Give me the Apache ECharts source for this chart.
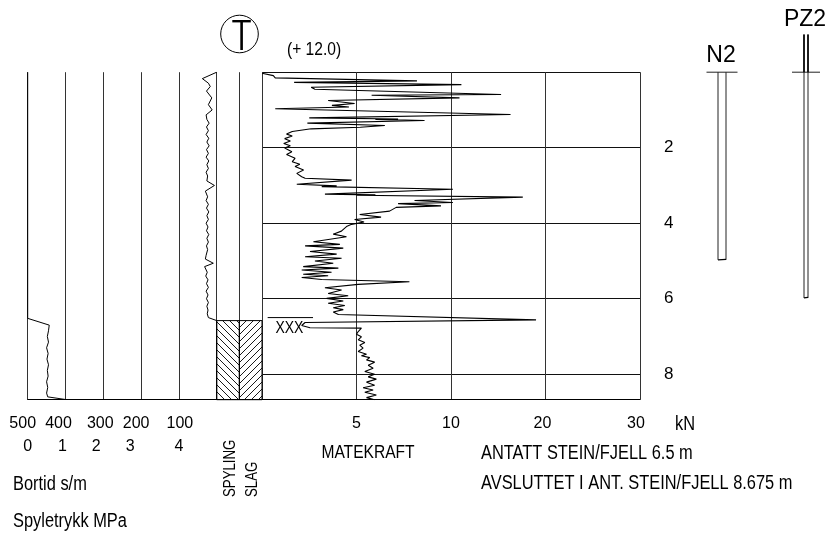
<!DOCTYPE html>
<html>
<head>
<meta charset="utf-8">
<script src="https://cdn.jsdelivr.net/npm/echarts@6/dist/echarts.min.js"></script>
<style>
  html, body { margin: 0; padding: 0; background: #fff; }
  #chart { width: 832px; height: 533px; }
</style>
</head>
<body>
<div id="chart"></div>
<script>
// ---- Totalsondering: borehole log data ----

// depth below ground (m)
const DEPTH_END = 8.675;
const depthTicks = [2, 4, 6, 8];

// Matekraft (feed force, kN) – piecewise scale breakpoints and their labels
const kNBreaks = [0, 5, 10, 20, 30];
const kNLabels = ['', '5', '10', '20', '30'];

// Matekraft trace
const matekraftDepth = [
  0.03, 0.09, 0.15, 0.23, 0.27, 0.33, 0.40, 0.45, 0.59, 0.61, 0.68, 0.75, 0.83, 0.88, 0.92, 0.97,
  1.12, 1.21, 1.24, 1.25, 1.28, 1.35, 1.41, 1.46, 1.50, 1.57, 1.64, 1.69, 1.76, 1.82, 1.89, 1.95,
  2.01, 2.06, 2.11, 2.18, 2.28, 2.37, 2.44, 2.50, 2.59, 2.68, 2.77, 2.81, 2.86, 2.97, 3.01, 3.03,
  3.10, 3.23, 3.25, 3.26, 3.31, 3.40, 3.45, 3.48, 3.54, 3.58, 3.68, 3.77, 3.84, 3.90, 3.97, 4.03,
  4.09, 4.21, 4.29, 4.36, 4.49, 4.56, 4.60, 4.66, 4.75, 4.82, 4.89, 4.93, 5.00, 5.06, 5.15, 5.19,
  5.24, 5.30, 5.35, 5.39, 5.44, 5.49, 5.55, 5.62, 5.71, 5.77, 5.86, 5.92, 5.99, 6.06, 6.12, 6.18,
  6.24, 6.29, 6.35, 6.42, 6.56, 6.63, 6.71, 6.77, 6.78, 6.87, 6.94, 7.01, 7.09, 7.16, 7.23, 7.31,
  7.40, 7.47, 7.51, 7.56, 7.62, 7.68, 7.76, 7.84, 7.93, 8.00, 8.07, 8.13, 8.21, 8.29, 8.36, 8.42,
  8.48, 8.55, 8.62, 8.675
];
const matekraftKN = [
  0.0, 0.6, 0.7, 8.2, 1.7, 11.1, 2.6, 2.8, 15.3, 5.8, 10.9, 3.5, 4.9, 3.7, 4.6, 0.7,
  16.3, 2.5, 7.2, 6.0, 8.6, 2.4, 6.5, 5.2, 2.6, 1.6, 1.3, 1.6, 1.2, 1.5, 1.15, 1.5,
  1.2, 1.1, 1.58, 1.3, 1.75, 1.6, 2.0, 1.75, 2.2, 1.84, 2.1, 2.28, 4.74, 1.84, 3.95, 3.16,
  10.2, 3.33, 6.0, 5.0, 17.6, 8.07, 10.2, 7.2, 9.47, 7.1, 6.75, 5.17, 6.3, 4.9, 5.4, 4.74,
  4.47, 4.2, 3.77, 4.47, 2.72, 4.12, 2.28, 4.3, 2.54, 3.95, 2.28, 4.21, 2.8, 3.77, 2.18, 4.04,
  2.1, 3.68, 2.18, 3.5, 2.1, 3.16, 7.8, 5.09, 3.33, 4.21, 3.5, 4.56, 3.42, 4.3, 3.5, 4.38,
  3.77, 4.3, 3.77, 4.04, 19.0, 2.28, 2.1, 2.54, 5.26, 5.09, 5.0, 5.26, 5.09, 5.44, 5.17, 5.35,
  5.09, 5.53, 5.26, 5.7, 5.53, 5.96, 5.62, 5.88, 5.44, 5.96, 5.62, 6.05, 5.53, 5.96, 5.35, 5.88,
  5.44, 6.05, 5.53, 5.96
];

// Bortid (s/m)
const bortidDepth = [
  0.0, 0.17, 0.29, 0.38, 0.50, 0.68, 0.86, 1.00, 1.13, 1.25, 1.35, 1.45, 1.55, 1.65, 1.75, 1.85,
  1.95, 2.05, 2.15, 2.25, 2.35, 2.45, 2.55, 2.65, 2.75, 2.88, 3.00, 3.15, 3.30, 3.40, 3.50, 3.60,
  3.70, 3.80, 3.90, 4.00, 4.10, 4.20, 4.30, 4.40, 4.50, 4.60, 4.70, 4.85, 4.95, 5.06, 5.15, 5.30,
  5.40, 5.50, 5.60, 5.70, 5.80, 5.90, 6.00, 6.10, 6.20, 6.30, 6.40, 6.50, 6.58, 8.675
];
const bortidSm = [
  0, 38, 22, 17, 27, 13, 22, 12, 28, 26, 20, 27, 22, 28, 21, 26,
  20, 27, 22, 28, 21, 26, 22, 28, 24, 26, 6, 30, 24, 28, 22, 27,
  21, 26, 22, 28, 23, 27, 21, 26, 22, 27, 24, 28, 30, 9, 32, 25,
  29, 23, 27, 22, 28, 23, 27, 22, 26, 23, 25, 22, 0, 0
];

// Spyletrykk (MPa)
const spyleDepth = [0, 6.52, 6.70, 6.85, 7.00, 7.15, 7.30, 7.45, 7.60, 7.75, 7.90, 8.05, 8.20, 8.35, 8.50, 8.60, 8.67];
const spyleMPa   = [0, 0, 0.57, 0.55, 0.52, 0.55, 0.50, 0.54, 0.51, 0.55, 0.52, 0.54, 0.50, 0.53, 0.50, 0.53, 1.0];

// Spyling / slag interval
const flushTop = 6.58;
const flushColumns = ['SPYLING', 'SLAG'];

// Stone/rock marker
const stoneDepth = 6.5;
const stoneSpanKN = [0.3, 2.7];

// Piezometers
const pipeNames = ['N2', 'PZ2'];
const pipeTop = [0, -1.0];
const pipeBottom = [4.97, 5.98];

// ---- layout ----
const FONT = "'Liberation Sans', Arial, sans-serif";
const NARROW = 0.82;            // horizontal squeeze for the condensed lettering
const TOP = 72.2, HEIGHT = 327.5;
const LINE = '#333';
const PIPE_LAYOUT = [
  { cx: 32, half: 4, ground: 15.5, labelY: 56 },
  { cx: 116, half: 2, ground: 14, labelY: 20 }
];

function kNToAxis(k) {
  for (let i = 0; i < kNBreaks.length - 1; i++) {
    if (k <= kNBreaks[i + 1] || i === kNBreaks.length - 2) {
      return i + (k - kNBreaks[i]) / (kNBreaks[i + 1] - kNBreaks[i]);
    }
  }
}

function hatchPattern(dir) {
  const s = 7;
  const c = document.createElement('canvas');
  c.width = s; c.height = s;
  const g = c.getContext('2d');
  g.strokeStyle = '#000';
  g.lineWidth = 0.9;
  g.beginPath();
  if (dir > 0) {
    g.moveTo(-1, s + 1); g.lineTo(s + 1, -1);
    g.moveTo(-1, 1); g.lineTo(1, -1);
    g.moveTo(s - 1, s + 1); g.lineTo(s + 1, s - 1);
  } else {
    g.moveTo(-1, -1); g.lineTo(s + 1, s + 1);
    g.moveTo(-1, s - 1); g.lineTo(1, s + 1);
    g.moveTo(s - 1, -1); g.lineTo(s + 1, 1);
  }
  g.stroke();
  return c;
}
const patterns = [hatchPattern(-1), hatchPattern(1)];

function richShift(shifts) {
  const rich = {};
  Object.keys(shifts).forEach(k => {
    const s = shifts[k];
    rich['s' + k] = s < 0 ? { padding: [0, -2 * s, 0, 0] } : { padding: [0, 0, 0, 2 * s] };
  });
  return rich;
}
const numStyle = { fontFamily: FONT, fontSize: 16, color: '#000' };
const bortShift = { 500: -5, 400: -7, 300: -3, 200: -5, 100: 1 };
const spyleShift = { 0: 0, 1: -3, 2: -7, 3: -11, 4: 0 };
const kNShift = { 1: 0, 2: 0, 3: -3, 4: -4 };

// condensed text label helper (graphic component)
function label(text, x, y, size, opts) {
  opts = opts || {};
  return {
    type: 'text', x: x, y: y, rotation: opts.rotation || 0,
    scaleX: opts.rotation ? NARROW * 0.95 : NARROW,
    style: {
      text: text, x: 0, y: 0, textAlign: opts.align || 'left', textVerticalAlign: 'middle',
      fontFamily: FONT, fontSize: size, fill: '#000'
    }
  };
}

const chart = echarts.init(document.getElementById('chart'), null, { renderer: 'canvas' });

const option = {
  animation: false,
  backgroundColor: '#fff',
  grid: [
    { left: 27.7, top: TOP, width: 189, height: HEIGHT },
    { left: 216.7, top: TOP, width: 45.3, height: HEIGHT },
    { left: 262, top: TOP, width: 378, height: HEIGHT },
    { left: 690, top: TOP, width: 140, height: HEIGHT }
  ],
  xAxis: [
    { // Spyletrykk MPa
      type: 'value', gridIndex: 0, position: 'bottom', min: 0, max: 5, interval: 1,
      axisLine: { show: true, onZero: false, lineStyle: { color: '#000', width: 1 } },
      axisTick: { show: false },
      splitLine: { show: true, lineStyle: { color: LINE, width: 1 } },
      axisLabel: {
        margin: 39, ...numStyle,
        formatter: v => v >= 5 ? '' : '{s' + v + '|' + v + '}',
        rich: richShift(spyleShift)
      }
    },
    { // Bortid s/m
      type: 'value', gridIndex: 0, position: 'bottom', min: 0, max: 500, interval: 100, inverse: true,
      axisLine: { show: false, onZero: false }, axisTick: { show: false }, splitLine: { show: false },
      axisLabel: {
        margin: 16, ...numStyle,
        formatter: v => v === 0 ? '' : '{s' + v + '|' + v + '}',
        rich: richShift(bortShift)
      }
    },
    { // spyling / slag columns
      type: 'value', gridIndex: 1, position: 'bottom', min: 0, max: 2, interval: 1,
      axisLine: { show: true, onZero: false, lineStyle: { color: '#000', width: 1 } },
      axisTick: { show: false }, axisLabel: { show: false },
      splitLine: { show: true, lineStyle: { color: LINE, width: 1 } }
    },
    { // Matekraft kN (piecewise)
      type: 'value', gridIndex: 2, position: 'bottom', min: 0, max: 4, interval: 1,
      axisLine: { show: true, onZero: false, lineStyle: { color: '#000', width: 1 } },
      axisTick: { show: false },
      splitLine: { show: true, lineStyle: { color: LINE, width: 1 } },
      axisLabel: {
        margin: 16, ...numStyle,
        formatter: v => kNLabels[v] ? '{s' + v + '|' + kNLabels[v] + '}' : '',
        rich: richShift(kNShift)
      }
    },
    { // piezometer panel
      type: 'value', gridIndex: 3, min: 0, max: 140, show: false, axisLine: { onZero: false }
    }
  ],
  yAxis: [
    { type: 'value', gridIndex: 0, min: 0, max: DEPTH_END, inverse: true, show: false, axisLine: { onZero: false } },
    { type: 'value', gridIndex: 1, min: 0, max: DEPTH_END, inverse: true, show: false, axisLine: { onZero: false } },
    {
      type: 'value', gridIndex: 2, min: 0, max: DEPTH_END, interval: 2, inverse: true, position: 'right',
      axisLine: { show: false, onZero: false }, axisTick: { show: false },
      splitLine: { show: true, lineStyle: { color: '#111', width: 1 } },
      axisLabel: {
        margin: 24, fontFamily: FONT, fontSize: 17, color: '#000',
        formatter: v => depthTicks.includes(v) ? String(v) : ''
      }
    },
    { type: 'value', gridIndex: 3, min: 0, max: DEPTH_END, inverse: true, show: false, axisLine: { onZero: false } }
  ],
  series: [
    {
      name: 'Spyletrykk', type: 'line', xAxisIndex: 0, yAxisIndex: 0,
      data: spyleDepth.map((d, i) => [spyleMPa[i], d]),
      symbol: 'none', lineStyle: { color: '#000', width: 1 }, z: 5
    },
    {
      name: 'Bortid', type: 'line', xAxisIndex: 1, yAxisIndex: 0,
      data: bortidDepth.map((d, i) => [bortidSm[i], d]),
      symbol: 'none', lineStyle: { color: '#000', width: 1 }, z: 5
    },
    {
      name: 'Spyling/slag', type: 'custom', xAxisIndex: 2, yAxisIndex: 1,
      data: flushColumns.map((n, i) => [i, flushTop, DEPTH_END]),
      renderItem: (params, api) => {
        const i = api.value(0);
        const p0 = api.coord([i, api.value(1)]);
        const p1 = api.coord([i + 1, api.value(2)]);
        return {
          type: 'rect',
          shape: { x: p0[0], y: p0[1], width: p1[0] - p0[0], height: p1[1] - p0[1] },
          style: { fill: { image: patterns[i], repeat: 'repeat' }, stroke: '#000', lineWidth: 1 }
        };
      },
      z: 3
    },
    {
      name: 'Matekraft', type: 'line', xAxisIndex: 3, yAxisIndex: 2,
      data: matekraftDepth.map((d, i) => [kNToAxis(matekraftKN[i]), d]),
      symbol: 'none', lineStyle: { color: '#000', width: 1.1 }, z: 5
    },
    {
      name: 'Stein', type: 'custom', xAxisIndex: 3, yAxisIndex: 2,
      data: [[kNToAxis(stoneSpanKN[0]), kNToAxis(stoneSpanKN[1]), stoneDepth]],
      renderItem: (params, api) => {
        const a = api.coord([api.value(0), api.value(2)]);
        const b = api.coord([api.value(1), api.value(2)]);
        return {
          type: 'group',
          children: [
            { type: 'line', shape: { x1: a[0], y1: a[1], x2: b[0], y2: b[1] }, style: { stroke: '#000', lineWidth: 1 } },
            {
              type: 'text', x: (a[0] + b[0]) / 2 - 1, y: a[1] + 11, scaleX: NARROW,
              style: { text: 'XXX', x: 0, y: 0, textAlign: 'center', textVerticalAlign: 'middle', fontFamily: FONT, fontSize: 17, fill: '#000' }
            }
          ]
        };
      },
      z: 6
    },
    {
      name: 'Piezometer', type: 'custom', xAxisIndex: 4, yAxisIndex: 3, clip: false,
      data: pipeNames.map((n, i) => [i, pipeTop[i], pipeBottom[i]]),
      renderItem: (params, api) => {
        const i = api.value(0);
        const L = PIPE_LAYOUT[i];
        const cx = api.coord([L.cx, 0])[0];
        const yTop = api.coord([L.cx, api.value(1)])[1];
        const yG = api.coord([L.cx, 0])[1];
        const yB = api.coord([L.cx, api.value(2)])[1];
        const st = { stroke: '#222', lineWidth: 1 };
        const kids = [
          { type: 'line', shape: { x1: cx - L.ground, y1: yG, x2: cx + L.ground, y2: yG }, style: st },
          { type: 'line', shape: { x1: cx - L.half, y1: yTop, x2: cx - L.half, y2: yB }, style: st },
          { type: 'line', shape: { x1: cx + L.half, y1: yTop, x2: cx + L.half, y2: yB }, style: st },
          { type: 'line', shape: { x1: cx - L.half, y1: yB, x2: cx + L.half, y2: yB - 0.5 }, style: { stroke: '#000', lineWidth: 1.2 } },
          { type: 'text', style: { text: pipeNames[i], x: cx - 1, y: L.labelY, textAlign: 'center', textVerticalAlign: 'middle', fontFamily: FONT, fontSize: 23, fill: '#000' } }
        ];
        if (yTop < yG) {
          kids.push({ type: 'line', shape: { x1: cx - L.half, y1: yTop, x2: cx - L.half, y2: yG }, style: { stroke: '#000', lineWidth: 1.6 } });
          kids.push({ type: 'line', shape: { x1: cx + L.half, y1: yTop, x2: cx + L.half, y2: yG }, style: { stroke: '#000', lineWidth: 1.6 } });
        }
        return { type: 'group', children: kids };
      },
      z: 5
    }
  ],
  graphic: [
    { type: 'circle', shape: { cx: 239.5, cy: 34, r: 18.8 }, style: { fill: 'none', stroke: '#000', lineWidth: 1 } },
    { type: 'rect', shape: { x: 232.3, y: 20, width: 18.5, height: 2.4 }, style: { fill: '#000' } },
    { type: 'rect', shape: { x: 240.3, y: 20, width: 2.6, height: 30 }, style: { fill: '#000' } },
    label('(+ 12.0)', 287, 50, 19),
    label('kN', 685, 424, 20, { align: 'center' }),
    label('Bortid s/m', 13, 484, 20),
    label('Spyletrykk MPa', 13, 521, 20),
    label('MATEKRAFT', 368, 453, 19, { align: 'center' }),
    label('ANTATT STEIN/FJELL 6.5 m', 481, 453, 20),
    label('AVSLUTTET I ANT. STEIN/FJELL 8.675 m', 481, 483, 20),
    label('SPYLING', 230, 497, 17, { rotation: Math.PI / 2 }),
    label('SLAG', 252, 497, 17, { rotation: Math.PI / 2 })
  ]
};

chart.setOption(option);
</script>
</body>
</html>
